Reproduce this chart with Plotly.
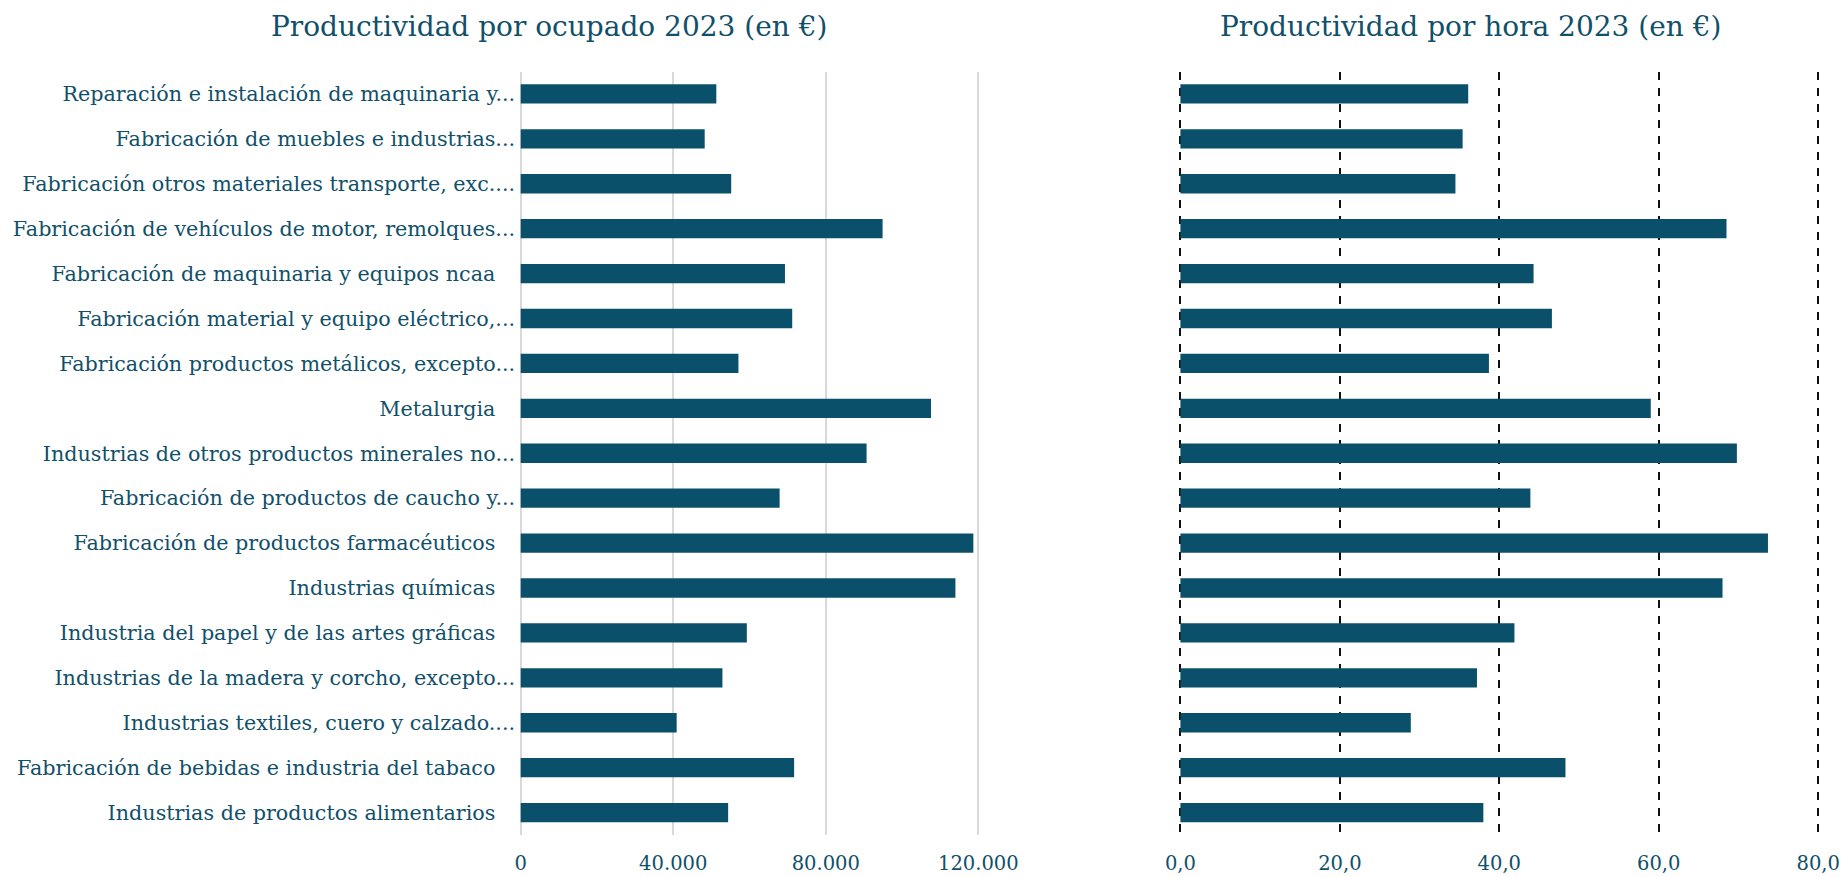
import plotly.graph_objects as go

# Sectores manufactureros (orden de arriba hacia abajo)
sectores = [
    "Reparación e instalación de maquinaria y...",
    "Fabricación de muebles e industrias...",
    "Fabricación otros materiales transporte, exc....",
    "Fabricación de vehículos de motor, remolques...",
    "Fabricación de maquinaria y equipos ncaa ",
    "Fabricación material y equipo eléctrico,...",
    "Fabricación productos metálicos, excepto...",
    "Metalurgia ",
    "Industrias de otros productos minerales no...",
    "Fabricación de productos de caucho y...",
    "Fabricación de productos farmacéuticos ",
    "Industrias químicas ",
    "Industria del papel y de las artes gráficas ",
    "Industrias de la madera y corcho, excepto...",
    "Industrias textiles, cuero y calzado....",
    "Fabricación de bebidas e industria del tabaco ",
    "Industrias de productos alimentarios ",
]

# Productividad por ocupado 2023 (euros)
por_ocupado = [51300, 48250, 55200, 94900, 69300, 71200, 57100, 107600, 90700,
               67900, 118700, 114000, 59300, 52900, 40900, 71700, 54400]

# Productividad por hora 2023 (euros)
por_hora = [36.1, 35.4, 34.5, 68.5, 44.3, 46.6, 38.7, 59.0, 69.8,
            43.9, 73.7, 68.0, 41.9, 37.2, 28.9, 48.3, 38.0]

ticks_ocupado = [0, 40000, 80000, 120000]
etiquetas_ocupado = ["0", "40.000", "80.000", "120.000"]
ticks_hora = [0, 20, 40, 60, 80]
etiquetas_hora = ["0,0", "20,0", "40,0", "60,0", "80,0"]

titulo_izq = "Productividad por ocupado 2023 (en €)"
titulo_der = "Productividad por hora 2023 (en €)"

W, H = 1847, 877
BAR = "#0b506a"
TXT = "#10506a"
FONT = "DejaVu Serif"


def eje(px0, px1, v0, v1, pad):
    """Dominio y rango con un pequeño margen para que se vean las líneas extremas."""
    k = (px1 - px0) / (v1 - v0)
    dom = [(px0 - pad * k) / W, (px1 + pad * k) / W]
    return dom, [v0 - pad, v1 + pad]


dom1, rng1 = eje(520.7, 978.3, 0, 120000, 1200)
dom2, rng2 = eje(1180.4, 1818.2, 0, 80, 0.8)

# Etiquetas: los nombres completos llevan un pequeño margen a la derecha
texto_y = [s.rstrip() + "\u00a0" * 3 if s.endswith(" ") else s for s in sectores]

fig = go.Figure()
fig.add_trace(go.Bar(
    x=por_ocupado, y=sectores, orientation="h",
    marker=dict(color=BAR, line=dict(width=0)),
    xaxis="x", yaxis="y", hoverinfo="x+y",
))
fig.add_trace(go.Bar(
    x=por_hora, y=sectores, orientation="h",
    marker=dict(color=BAR, line=dict(width=0)),
    xaxis="x2", yaxis="y2", hoverinfo="x+y",
))

ytop = 1 - 71.5 / H
ybot = 1 - 835 / H

fig.update_layout(
    width=W, height=H,
    margin=dict(l=0, r=0, t=0, b=0),
    paper_bgcolor="white", plot_bgcolor="white",
    showlegend=False,
    bargap=0.57,
    font=dict(family=FONT, color=TXT, size=20),
    xaxis=dict(
        domain=dom1, range=rng1,
        tickvals=ticks_ocupado, ticktext=etiquetas_ocupado,
        showgrid=True, gridcolor="#d9d9d9", gridwidth=1.5,
        zeroline=False, showline=False, ticks="",
        ticklabelstandoff=14, automargin=False, fixedrange=True,
        tickfont=dict(size=19.5, color=TXT),
    ),
    yaxis=dict(
        domain=[ybot, ytop], autorange="reversed",
        tickvals=sectores, ticktext=texto_y,
        showgrid=False, zeroline=False, showline=False, ticks="",
        ticklabelstandoff=0, automargin=False, fixedrange=True,
        tickfont=dict(size=20.7, color=TXT),
    ),
    xaxis2=dict(
        domain=dom2, range=rng2,
        tickvals=ticks_hora, ticktext=etiquetas_hora,
        showgrid=True, gridcolor="#111111", gridwidth=1.5, griddash="8px,8px",
        zeroline=False, showline=False, ticks="",
        ticklabelstandoff=14, automargin=False, fixedrange=True,
        anchor="y2", tickfont=dict(size=19.5, color=TXT),
    ),
    yaxis2=dict(
        domain=[ybot, ytop], autorange="reversed", anchor="x2",
        showticklabels=False, showgrid=False, zeroline=False,
        showline=False, ticks="", fixedrange=True,
    ),
    annotations=[
        dict(text=titulo_izq, x=549 / W, y=1 - 26 / H, xref="paper", yref="paper",
             xanchor="center", yanchor="middle", showarrow=False,
             font=dict(size=28, color=TXT, family=FONT)),
        dict(text=titulo_der, x=1470 / W, y=1 - 26 / H, xref="paper", yref="paper",
             xanchor="center", yanchor="middle", showarrow=False,
             font=dict(size=28, color=TXT, family=FONT)),
    ],
)

fig.write_html("out.html")
